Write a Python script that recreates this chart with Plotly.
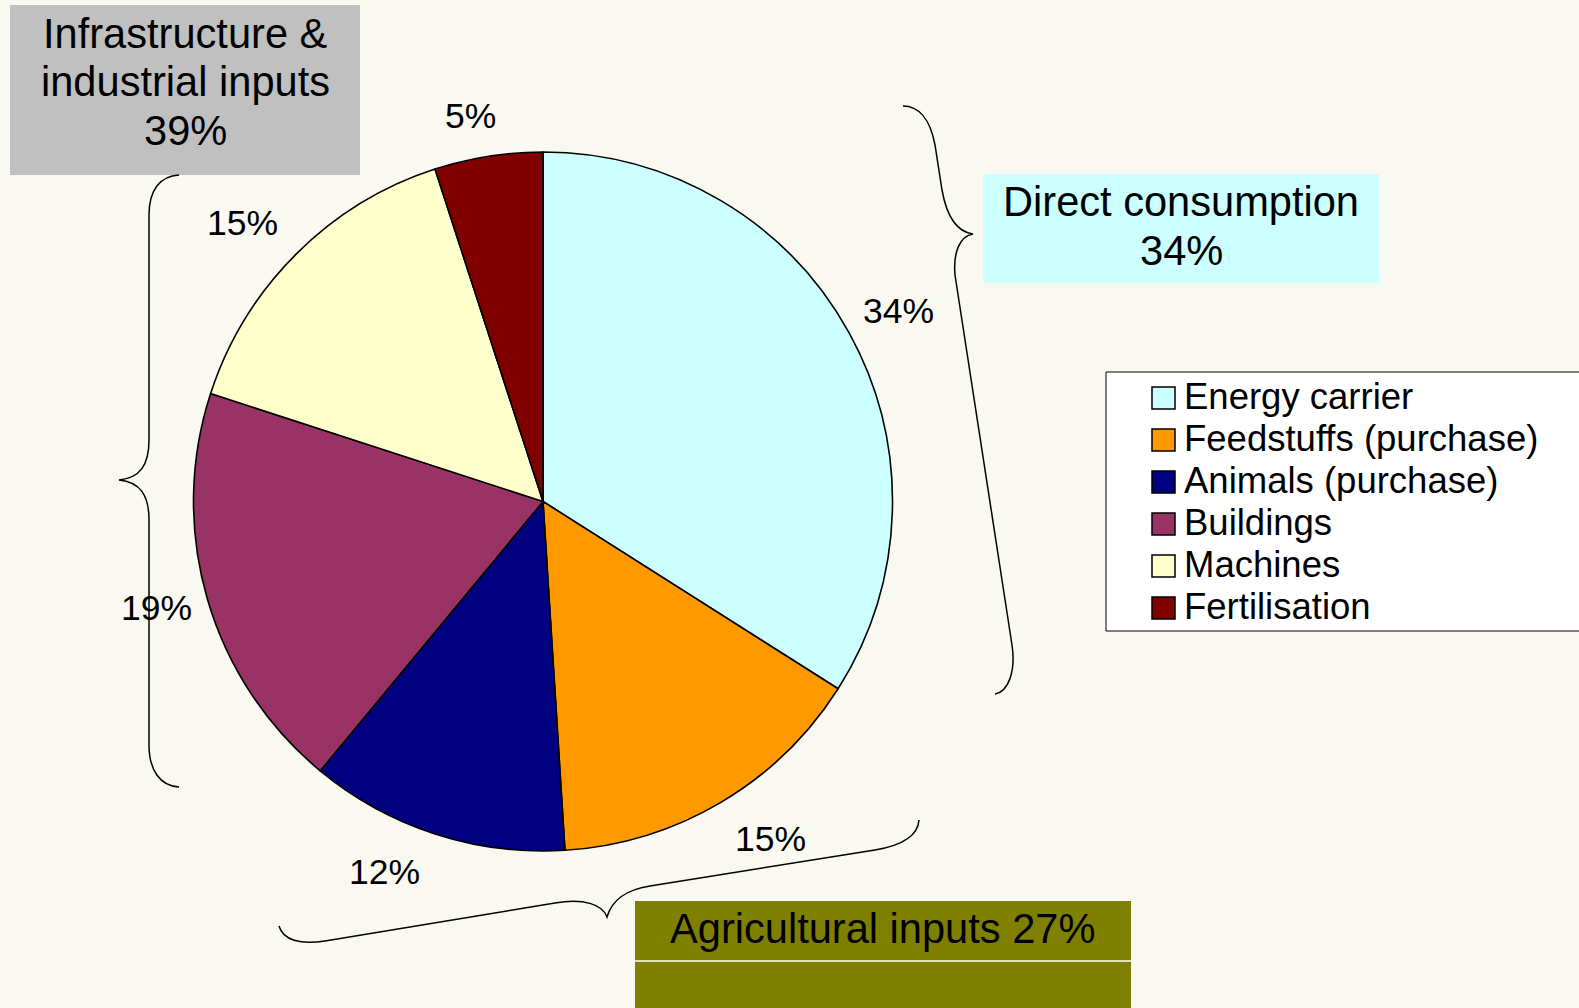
import math
import plotly.graph_objects as go

# ---------------- data ----------------
categories = ["Energy carrier", "Feedstuffs (purchase)", "Animals (purchase)",
              "Buildings", "Machines", "Fertilisation"]
shares = [34, 15, 12, 19, 15, 5]
slice_colors = ["#CCFFFF", "#FF9900", "#000080", "#993366", "#FFFFCC", "#800000"]

group_names = ["Direct consumption", "Agricultural inputs", "Infrastructure & industrial inputs"]
group_members = [[0], [1, 2], [3, 4, 5]]

# ---------------- style / layout ----------------
W, H = 1579, 1008
BG = "#F9F9F1"
FONT = "Liberation Sans, Arial, sans-serif"
cx, cy, R = 543, 501.5, 349.5          # pie centre / radius in px
label_r = [403, 407, 403, 401, 410, 392]          # distance of % labels from centre
label_shift = [0.6, -3.3, 5.2, 0.8, -2.2, -1.6]   # small angular nudges (deg)

fig = go.Figure()

# invisible cartesian layer used as a pixel coordinate system for decorations
fig.add_trace(go.Scatter(x=[0, W], y=[0, H], mode="markers",
                         marker=dict(opacity=0), showlegend=False, hoverinfo="skip"))

fig.add_trace(go.Pie(
    labels=categories, values=shares, sort=False, direction="clockwise", rotation=0,
    marker=dict(colors=slice_colors, line=dict(color="black", width=1.6)),
    textinfo="none", hoverinfo="label+percent", showlegend=False,
    domain=dict(x=[(cx - R) / W, (cx + R) / W], y=[(H - cy - R) / H, (H - cy + R) / H]),
))

annotations = []
shapes = []


def ann(x, y, text, size, xanchor="center"):
    return dict(x=x, y=y, xref="x", yref="y", text=text, showarrow=False,
                xanchor=xanchor, yanchor="middle",
                font=dict(family=FONT, size=size, color="black"))


# percent labels at slice mid-angles
total = sum(shares)
cum = 0
for i, v in enumerate(shares):
    mid = (cum + v / 2) / total * 360 + label_shift[i]
    cum += v
    a = math.radians(mid)
    x = cx + label_r[i] * math.sin(a)
    y = cy - label_r[i] * math.cos(a)
    annotations.append(ann(x, y, f"{v}%", 35.5))

group_tot = [sum(shares[j] for j in m) for m in group_members]

# group boxes
shapes.append(dict(type="rect", xref="x", yref="y", x0=10, x1=360, y0=5, y1=175,
                   fillcolor="#C0C0C0", line=dict(width=0), layer="below"))
shapes.append(dict(type="rect", xref="x", yref="y", x0=983, x1=1379, y0=174, y1=283,
                   fillcolor="#CCFFFF", line=dict(width=0), layer="below"))
shapes.append(dict(type="rect", xref="x", yref="y", x0=635, x1=1131, y0=901, y1=1010,
                   fillcolor="#808000", line=dict(width=0), layer="below"))
shapes.append(dict(type="line", xref="x", yref="y", x0=635, x1=1131, y0=961, y1=961,
                   line=dict(color="white", width=1.5)))

BOX_FS = 41.6
annotations.append(ann(185, 33, "Infrastructure &", BOX_FS))
annotations.append(ann(185, 81, "industrial inputs", BOX_FS))
annotations.append(ann(185, 130, f"{group_tot[2]}%", BOX_FS))
annotations.append(ann(1181, 201, group_names[0], BOX_FS))
annotations.append(ann(1181, 250, f"{group_tot[0]}%", BOX_FS))
annotations.append(ann(882, 928, f"{group_names[1]} {group_tot[1]}%", BOX_FS))

# curly braces
brace_paths = [
    "M 179 175 C 160 176, 149 190, 149 215 L 149 440 C 149 465, 140 478, 119 480 "
    "C 140 482, 149 495, 149 520 L 149 745 C 149 770, 160 786, 179 787",
    "M 903 106 C 918 106, 930 118, 935 145 L 942 190 C 947 218, 958 232, 973 234 "
    "C 960 236, 953 252, 955 275 L 1012 645 C 1016 672, 1008 692, 995 694",
    "M 279 926 C 283 940, 300 945, 325 941 L 555 903 C 585 898, 603 905, 607 917 "
    "C 612 900, 625 890, 650 886 L 875 850 C 905 845, 918 835, 919 820",
]
for p in brace_paths:
    shapes.append(dict(type="path", xref="x", yref="y", path=p,
                       line=dict(color="black", width=1.5)))

# legend
shapes.append(dict(type="rect", xref="x", yref="y", x0=1106, x1=1600, y0=372, y1=631,
                   fillcolor="white", line=dict(color="black", width=1), layer="below"))
for i, (name, col) in enumerate(zip(categories, slice_colors)):
    yc = 398 + 42 * i
    shapes.append(dict(type="rect", xref="x", yref="y", x0=1152, x1=1175,
                       y0=yc - 11, y1=yc + 11, fillcolor=col,
                       line=dict(color="black", width=1.5)))
    annotations.append(ann(1182, yc - 2, name, 36.5, xanchor="left"))

fig.update_layout(
    width=W, height=H, margin=dict(l=0, r=0, t=0, b=0, pad=0),
    paper_bgcolor=BG, plot_bgcolor=BG,
    xaxis=dict(range=[0, W], visible=False, fixedrange=True, domain=[0, 1]),
    yaxis=dict(range=[H, 0], visible=False, fixedrange=True, domain=[0, 1]),
    shapes=shapes, annotations=annotations, showlegend=False,
)

fig.write_html("out.html", config={"displayModeBar": False},
               post_script="document.body.style.margin='0';document.body.style.overflow='hidden';")
